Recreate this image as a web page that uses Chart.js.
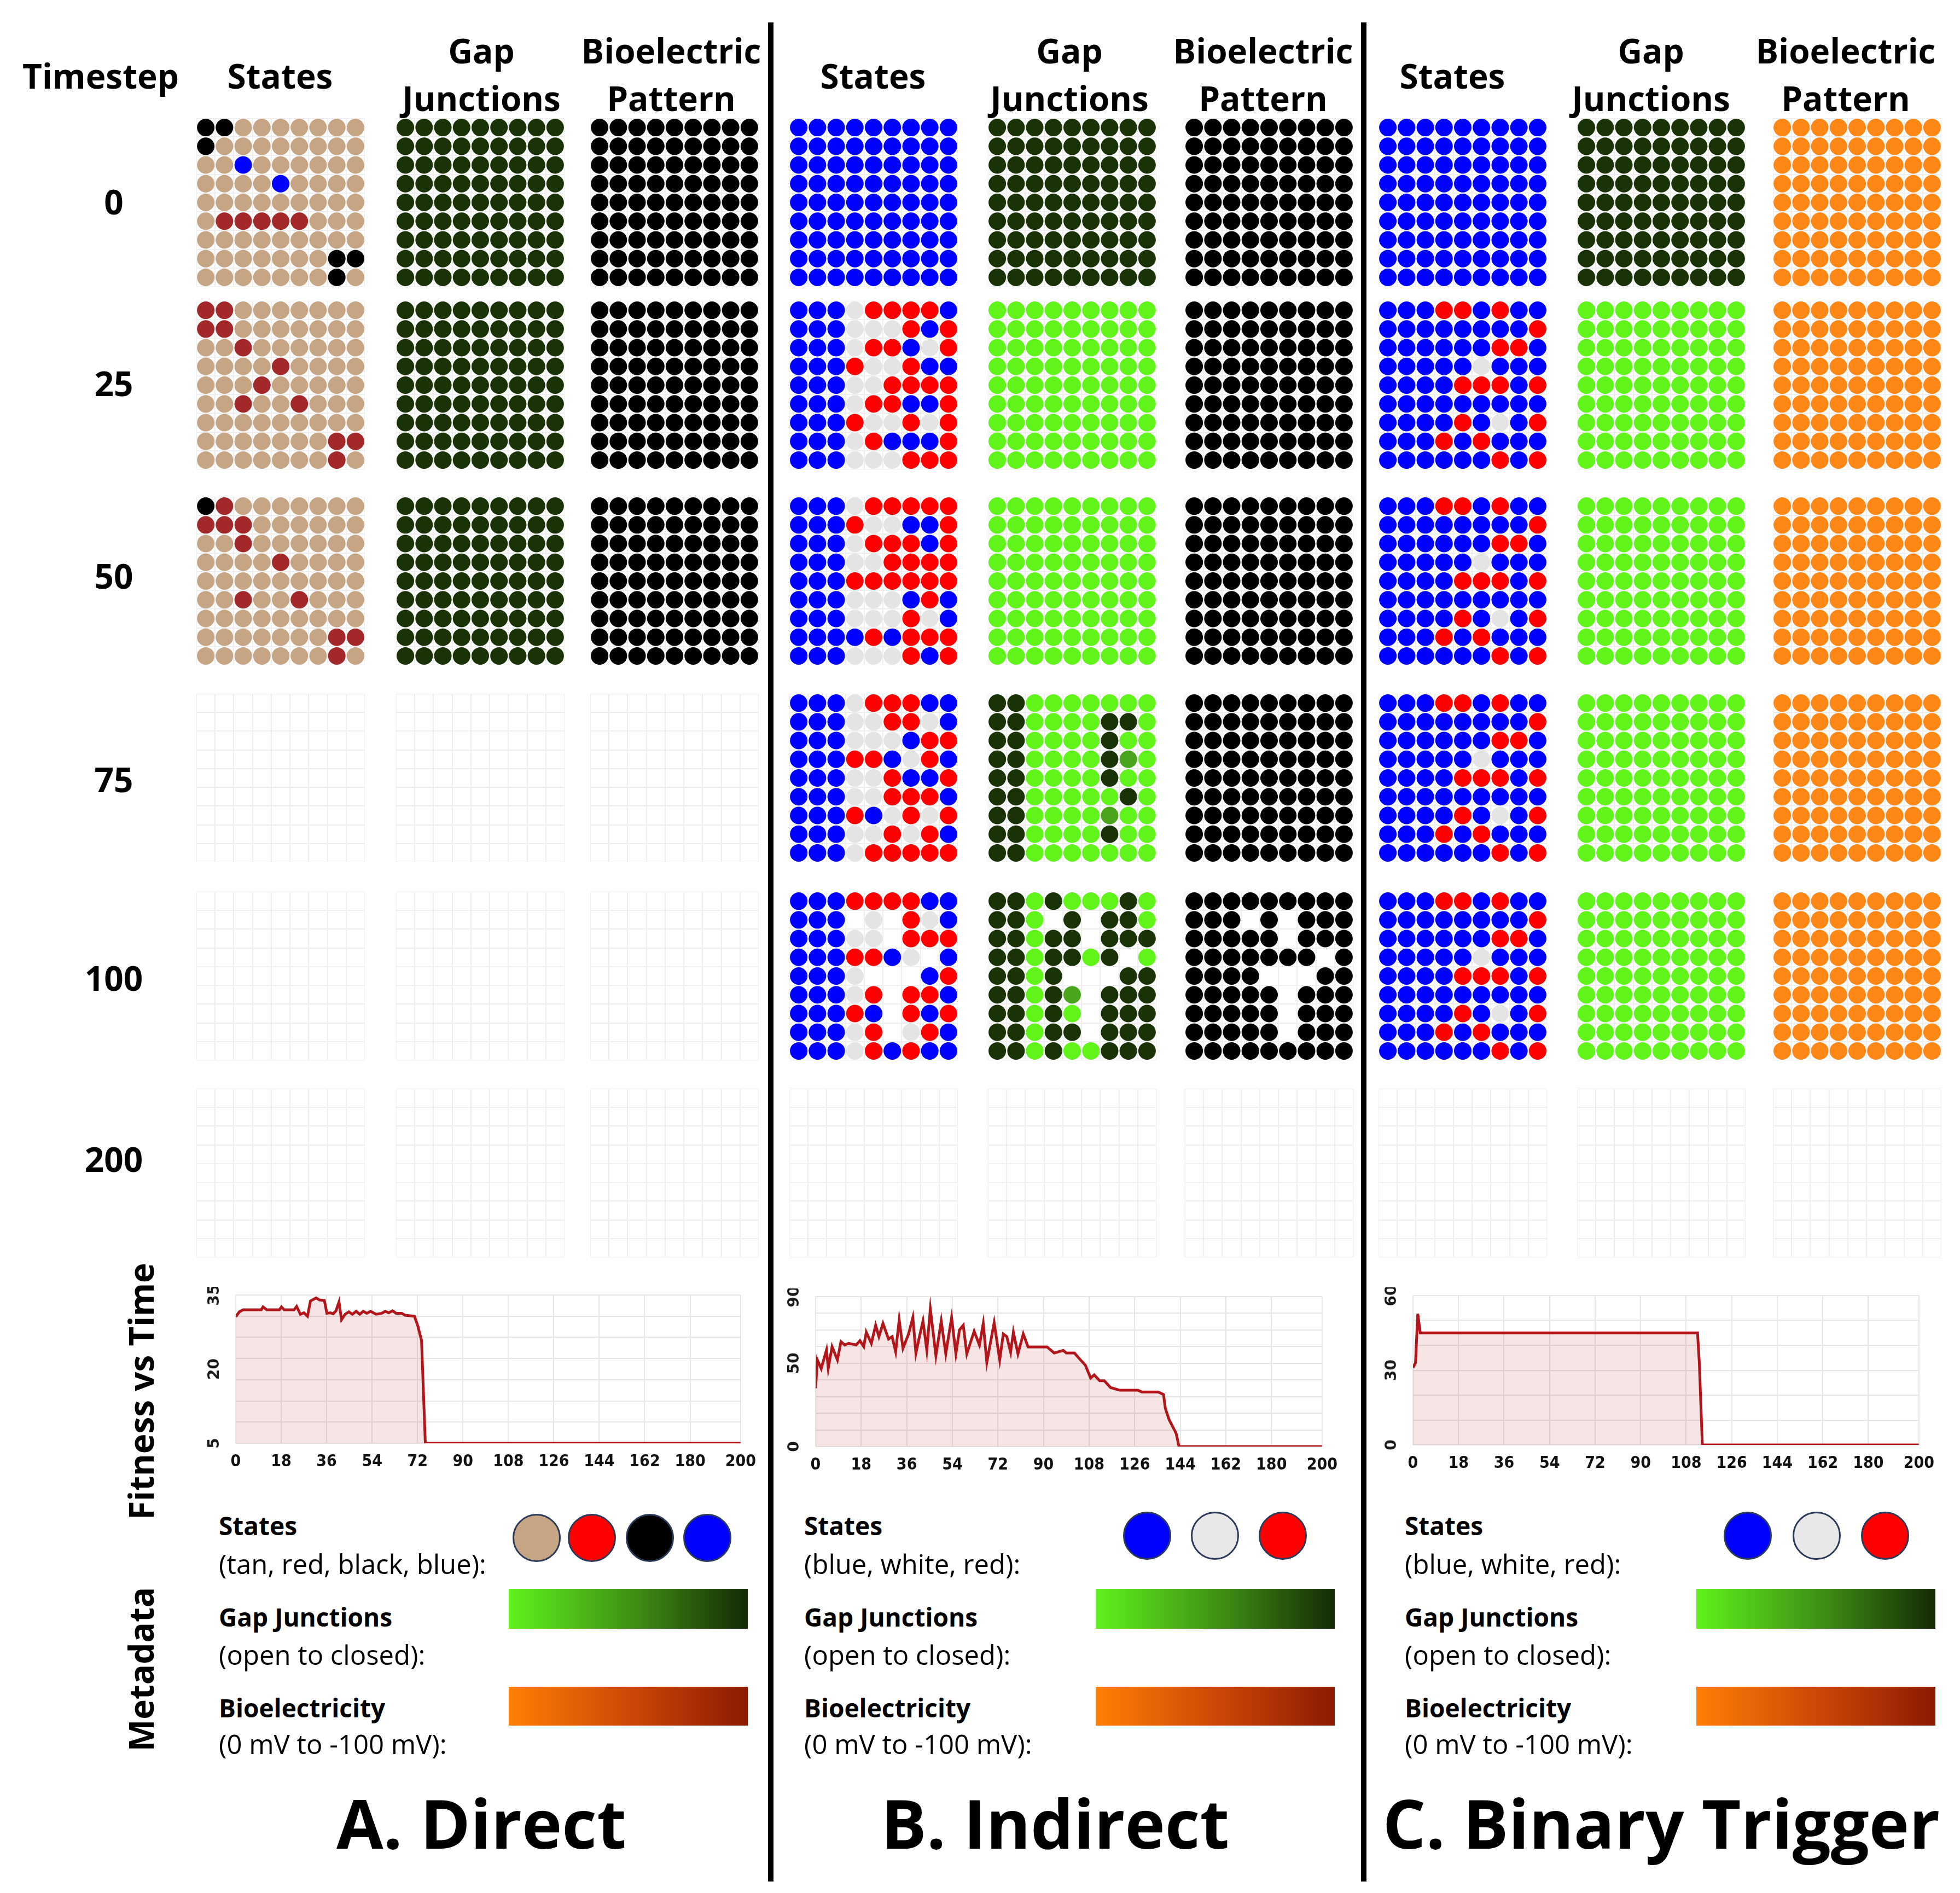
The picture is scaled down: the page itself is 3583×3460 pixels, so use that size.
<!DOCTYPE html>
<html>
<head>
<meta charset="utf-8">
<script src="https://cdn.jsdelivr.net/npm/chart.js@4.4.1/dist/chart.umd.min.js"></script>
<style>
body { margin: 0; background: #fff; }
#page { position: relative; width: 3583px; height: 3460px; overflow: hidden; font-family: "Open Sans", sans-serif; color: #000; }
.lbl { position: absolute; white-space: nowrap; line-height: 1.2; }
.c { transform: translate(-50%, -50%); }
.l { transform: translate(0, -50%); }
.rot { transform: translate(-50%, -50%) rotate(-90deg); }
canvas { position: absolute; }
.sep { position: absolute; width: 10px; top: 41px; height: 3398px; background: #000; }
.dot { position: absolute; width: 82px; height: 82px; border-radius: 50%; border: 3px solid #2b3a58; transform: translate(-50%, -50%); }
.bar { position: absolute; }
</style>
</head>
<body>
<div id="page"></div>
<script>
// timesteps and column headers
const timesteps = ['0', '25', '50', '75', '100', '200'];
const columnHeads = [['States'], ['Gap', 'Junctions'], ['Bioelectric', 'Pattern']];
const panelTitles = ['A. Direct', 'B. Indirect', 'C. Binary Trigger'];

// cell codes: T tan, R brown, K black, U blue, r red, W white, D dark green, G green, M mid green, O orange, . empty
const cellColors = { T: '#c6a585', R: '#a3282a', K: '#000000', U: '#0000ff', r: '#ff0000', W: '#e4e4e4',
  D: '#1a3306', G: '#60f41a', M: '#4aa51c', O: '#ff8716' };

const gridStatesA0 = ['KKTTTTTTT', 'KTTTTTTTT', 'TTUTTTTTT', 'TTTTUTTTT', 'TTTTTTTTT', 'TRRRRRTTT', 'TTTTTTTTT', 'TTTTTTTKK', 'TTTTTTTKT'];
const gridStatesA25 = ['RRTTTTTTT', 'RRTTTTTTT', 'TTRTTTTTT', 'TTTTRTTTT', 'TTTRTTTTT', 'TTRTTRTTT', 'TTTTTTTTT', 'TTTTTTTRR', 'TTTTTTTRT'];
const gridStatesA50 = ['KRTTTTTTT', 'RRRTTTTTT', 'TTRTTTTTT', 'TTTTRTTTT', 'TTTTTTTTT', 'TTRTTRTTT', 'TTTTTTTTT', 'TTTTTTTRR', 'TTTTTTTRT'];
const gridStatesB25 = ['UUUWrrrrU', 'UUUWWWrUr', 'UUUWrrUWr', 'UUUrWWrUU', 'UUUWWrrrr', 'UUUWrrUUr', 'UUUrWWrWr', 'UUUWrUUUr', 'UUUWWWrrr'];
const gridStatesB50 = ['UUUWrrrrr', 'UUUrWWUUr', 'UUUWrrrUr', 'UUUWWrrrr', 'UUUrrrrrr', 'UUUWWWUrU', 'UUUWWWrWU', 'UUUUrUrrr', 'UUUWWWrUr'];
const gridStatesB75 = ['UUUWrrrUU', 'UUUWWrrWU', 'UUUWWWUrr', 'UUUrrUWrU', 'UUUWWrUUr', 'UUUWWrrrU', 'UUUrUWrWr', 'UUUWWrWrU', 'UUUWrrrrr'];
const gridStatesB100 = ['UUUrrrrUU', 'UUU.W.rWU', 'UUUWW.rrr', 'UUUrrUW.U', 'UUUW...Ur', 'UUUWr.rrU', 'UUUrU.rUr', 'UUUWr.WrU', 'UUUWrUrUU'];
const gridGapB75 = ['DDGGGGGGG', 'DDGGGGDDG', 'DDGGGGDGG', 'DDGGGGDMG', 'DDGGGGDGG', 'DDGGGGGDG', 'DDGGGGMGG', 'DDGGGGDGG', 'DDGGGGGGG'];
const gridGapB100 = ['DDGDGGGDG', 'DDG.D.DDG', 'DDGDD.DDD', 'DDGDDGD.G', 'DDGD...DD', 'DDGDM.DDD', 'DDGDG.DDD', 'DDGDD.DDD', 'DDGDGGDDD'];
const gridBioB100 = ['KKKKKKKKK', 'KKK.K.KKK', 'KKKKK.KKK', 'KKKKKKK.K', 'KKKK...KK', 'KKKKK.KKK', 'KKKKK.KKK', 'KKKKK.KKK', 'KKKKKKKKK'];
const gridStatesC = ['UUUrrUrUU', 'UUUUUUUUr', 'UUUUUUrrU', 'UUUUUWUUU', 'UUUUrrrUr', 'UUUUUUUUU', 'UUUUrUWUr', 'UUUrUrUUU', 'UUUUUUrUr'];
const gridAllBlue = ['UUUUUUUUU', 'UUUUUUUUU', 'UUUUUUUUU', 'UUUUUUUUU', 'UUUUUUUUU', 'UUUUUUUUU', 'UUUUUUUUU', 'UUUUUUUUU', 'UUUUUUUUU'];
const gridAllDark = ['DDDDDDDDD', 'DDDDDDDDD', 'DDDDDDDDD', 'DDDDDDDDD', 'DDDDDDDDD', 'DDDDDDDDD', 'DDDDDDDDD', 'DDDDDDDDD', 'DDDDDDDDD'];
const gridAllGreen = ['GGGGGGGGG', 'GGGGGGGGG', 'GGGGGGGGG', 'GGGGGGGGG', 'GGGGGGGGG', 'GGGGGGGGG', 'GGGGGGGGG', 'GGGGGGGGG', 'GGGGGGGGG'];
const gridAllBlack = ['KKKKKKKKK', 'KKKKKKKKK', 'KKKKKKKKK', 'KKKKKKKKK', 'KKKKKKKKK', 'KKKKKKKKK', 'KKKKKKKKK', 'KKKKKKKKK', 'KKKKKKKKK'];
const gridAllOrange = ['OOOOOOOOO', 'OOOOOOOOO', 'OOOOOOOOO', 'OOOOOOOOO', 'OOOOOOOOO', 'OOOOOOOOO', 'OOOOOOOOO', 'OOOOOOOOO', 'OOOOOOOOO'];

// one row per timestep, one entry per column (null = empty panel)
const panelGrids = [
  [gridStatesA0, gridAllDark, gridAllBlack, gridAllBlue, gridAllDark, gridAllBlack, gridAllBlue, gridAllDark, gridAllOrange],
  [gridStatesA25, gridAllDark, gridAllBlack, gridStatesB25, gridAllGreen, gridAllBlack, gridStatesC, gridAllGreen, gridAllOrange],
  [gridStatesA50, gridAllDark, gridAllBlack, gridStatesB50, gridAllGreen, gridAllBlack, gridStatesC, gridAllGreen, gridAllOrange],
  [null, null, null, gridStatesB75, gridGapB75, gridAllBlack, gridStatesC, gridAllGreen, gridAllOrange],
  [null, null, null, gridStatesB100, gridGapB100, gridBioB100, gridStatesC, gridAllGreen, gridAllOrange],
  [null, null, null, null, null, null, null, null, null]
];

// fitness vs time
const fitTimeTicks = [0, 18, 36, 54, 72, 90, 108, 126, 144, 162, 180, 200];
const fitATime = [0, 1.4, 2.9, 10.1, 10.8, 12.3, 17.3, 18.1, 19.2, 23.1, 24.1, 25.6, 27, 28.4, 29.6, 31.8, 33.2, 35.1, 36.1, 37.5, 38.6, 39.7, 40.9, 41.9, 43.3, 44.8, 46.2, 47.7, 49.1, 50.5, 51.9, 53.4, 55.6, 57.8, 59.2, 60.6, 62.1, 63.5, 65.7, 67.1, 70.8, 72.2, 73.6, 75.1, 200];
const fitAScore = [30.6, 31.6, 32.0, 32.0, 32.6, 32.0, 32.0, 32.6, 32.0, 32.0, 32.7, 31.1, 31.4, 30.7, 33.8, 34.4, 34.0, 33.9, 31.3, 31.4, 31.2, 31.8, 33.6, 30.0, 31.1, 31.6, 31.1, 31.7, 31.1, 31.7, 31.3, 31.7, 31.1, 31.3, 31.7, 31.4, 31.8, 31.3, 31.3, 30.9, 30.7, 28.6, 25.8, 5, 5];
const fitBTime = [0, 0.7, 2.2, 4.3, 5, 6.5, 8.6, 10, 11.5, 13, 16, 17.5, 19, 20, 22, 23.7, 25, 26.6, 28.8, 30.2, 31.6, 33, 34.5, 36.7, 38.4, 39.6, 41, 42.4, 43.9, 45.3, 47.5, 49.6, 51.4, 53.7, 55.4, 56.8, 58.3, 59.7, 62.6, 64.7, 66.2, 67.6, 70.5, 72.7, 74.1, 75.5, 77, 78.1, 79.9, 82, 83.9, 91.4, 94.2, 97.8, 99, 102.2, 104.3, 106.5, 108.6, 110, 112.2, 114, 116.5, 120.1, 127.3, 128.8, 135.3, 137.4, 138.1, 139.6, 141, 142.4, 143.5, 200];
const fitBScore = [35, 52, 46.8, 58, 47, 60, 52, 63, 61, 62, 61, 63.5, 60, 68.7, 62, 72.8, 66, 73.9, 64.5, 66, 57, 76, 59, 67.6, 77.5, 56, 66, 75.4, 58, 82.7, 54.6, 75.4, 55.7, 77.5, 55.7, 70, 72.8, 55.7, 69.2, 60.9, 73.9, 50.5, 74.4, 52, 67.6, 66, 56.7, 68.7, 55.7, 67.6, 59.8, 59.8, 56.2, 57.7, 56.2, 56.2, 52.5, 48.9, 41.1, 43, 39.5, 39.5, 35.4, 33.8, 33.8, 32.8, 32.8, 31.2, 22.9, 16.1, 12, 7.8, 0, 0];
const fitCTime = [0, 1, 1.9, 2.9, 112.5, 113.2, 114.4, 200];
const fitCScore = [31, 33, 52.7, 45, 45, 33, 0, 0];
const fitYLabelsA = [5, 20, 35];
const fitYLabelsB = [0, 50, 90];
const fitYLabelsC = [0, 30, 60];

const page = document.getElementById('page');

function addLabel(text, x, y, cls, css) {
  const d = document.createElement('div');
  d.className = 'lbl ' + cls;
  d.textContent = text;
  d.style.left = x + 'px';
  d.style.top = y + 'px';
  Object.assign(d.style, css || {});
  page.appendChild(d);
  return d;
}

function addCanvas(x, y, w, h) {
  const c = document.createElement('canvas');
  c.width = w; c.height = h;
  c.style.left = x + 'px'; c.style.top = y + 'px';
  c.style.width = w + 'px'; c.style.height = h + 'px';
  page.appendChild(c);
  return c;
}

// layout
const colLefts = [359, 724, 1079, 1443, 1806, 2166, 2520, 2883, 3241];
const rowTops = [216, 550, 908, 1268, 1630, 1990];
const rowMids = [368, 700, 1052, 1424, 1787, 2118];
const headCenters = [512, 880, 1227, 1596, 1955, 2309, 2655, 3018, 3374];
const panelSize = 308;

const headFont = { fontSize: '62px', fontWeight: '700' };
addLabel('Timestep', 184, 138, 'c', headFont);
timesteps.forEach((t, i) => addLabel(t, 208, rowMids[i], 'c', headFont));
headCenters.forEach((x, i) => {
  const h = columnHeads[i % 3];
  if (h.length === 1) addLabel(h[0], x, 138, 'c', headFont);
  else { addLabel(h[0], x, 92, 'c', headFont); addLabel(h[1], x, 179, 'c', headFont); }
});

function drawGrid(canvas, grid) {
  const pts = [], cols = [];
  if (grid) {
    grid.forEach((row, r) => {
      row.split('').forEach((code, k) => {
        if (code === '.') return;
        pts.push({ x: k + 0.5, y: r + 0.5 });
        cols.push(cellColors[code]);
      });
    });
  }
  const axis = {
    min: 0, max: 9,
    ticks: { display: false, stepSize: 1 },
    grid: { color: '#eeeeee', lineWidth: 2, drawTicks: false },
    border: { display: false }
  };
  new Chart(canvas, {
    type: 'scatter',
    data: { datasets: [{ data: pts, pointBackgroundColor: cols, pointBorderWidth: 0, pointRadius: 16, pointHoverRadius: 16, clip: false }] },
    options: {
      animation: false, responsive: false, events: [],
      layout: { padding: 0, autoPadding: false },
      plugins: { legend: { display: false }, tooltip: { enabled: false } },
      scales: { x: axis, y: Object.assign({}, axis, { reverse: true }) }
    }
  });
}

panelGrids.forEach((row, r) => {
  row.forEach((grid, c) => {
    drawGrid(addCanvas(colLefts[c], rowTops[r], panelSize, panelSize), grid);
  });
});

// rotated y labels (the source chart prints them sideways)
const rotatedYLabels = {
  id: 'rotatedYLabels',
  afterDraw(chart, args, opts) {
    const ctx = chart.ctx, y = chart.scales.y;
    ctx.save();
    ctx.font = 'bold 28px "DejaVu Sans", sans-serif';
    ctx.fillStyle = '#1a1a1a';
    ctx.textAlign = 'center';
    ctx.textBaseline = 'middle';
    opts.values.forEach(v => {
      ctx.save();
      ctx.translate(chart.chartArea.left - 38, y.getPixelForValue(v));
      ctx.rotate(-Math.PI / 2);
      ctx.fillText(String(v), 0, 0);
      ctx.restore();
    });
    ctx.restore();
  }
};

function drawFitness(canvas, times, scores, yOpts, yLabels) {
  new Chart(canvas, {
    type: 'line',
    data: {
      datasets: [{
        data: times.map((t, i) => ({ x: t, y: scores[i] })),
        borderColor: '#b3161a', borderWidth: 5, pointRadius: 0, tension: 0,
        fill: 'start', backgroundColor: 'rgba(190, 50, 50, 0.13)'
      }]
    },
    options: {
      animation: false, responsive: false, events: [],
      layout: { padding: { left: 60, right: 30, top: 15, bottom: 0 } },
      plugins: { legend: { display: false }, tooltip: { enabled: false }, rotatedYLabels: { values: yLabels } },
      scales: {
        x: {
          type: 'linear', min: 0, max: 200,
          afterBuildTicks: s => { s.ticks = fitTimeTicks.map(v => ({ value: v })); },
          ticks: { autoSkip: false, maxRotation: 0, padding: 16, color: '#111',
            font: { family: '"DejaVu Sans Condensed", "Liberation Sans Narrow", sans-serif', weight: 'bold', size: 30 } },
          grid: { color: '#e6e6e6', lineWidth: 2, drawTicks: false },
          border: { display: false }
        },
        y: Object.assign({
          ticks: { display: false },
          grid: { color: '#e6e6e6', lineWidth: 2, drawTicks: false },
          border: { display: false }
        }, yOpts)
      }
    },
    plugins: [rotatedYLabels]
  });
}

drawFitness(addCanvas(371, 2352, 1027, 354), fitATime, fitAScore,
  { min: 5, max: 35, ticks: { display: false, count: 8 } }, fitYLabelsA);
drawFitness(addCanvas(1431, 2355, 1030, 357), fitBTime, fitBScore,
  { min: 0, max: 90, ticks: { display: false, stepSize: 10 } }, fitYLabelsB);
drawFitness(addCanvas(2523, 2353, 1029, 356), fitCTime, fitCScore,
  { min: 0, max: 60, ticks: { display: false, stepSize: 10 } }, fitYLabelsC);

// side labels
addLabel('Fitness vs Time', 257, 2543, 'rot', headFont);
addLabel('Metadata', 257, 3051, 'rot', headFont);

// metadata legends
const legendStates = [
  { text: '(tan, red, black, blue):', colors: ['#c6a585', '#ff0000', '#000000', '#0000ff'], xs: [981, 1082, 1188, 1293] },
  { text: '(blue, white, red):', colors: ['#0000ff', '#e8e8e8', '#ff0000'], xs: [2097, 2221, 2345] },
  { text: '(blue, white, red):', colors: ['#0000ff', '#e8e8e8', '#ff0000'], xs: [3195, 3321, 3446] }
];
const legendLefts = [400, 1470, 2568];
const barLefts = [930, 2003, 3101];
const boldSmall = { fontSize: '46px', fontWeight: '700' };
const regSmall = { fontSize: '49px', fontWeight: '400' };

legendStates.forEach((ls, i) => {
  const x = legendLefts[i];
  addLabel('States', x, 2789, 'l', boldSmall);
  addLabel(ls.text, x, 2858, 'l', regSmall);
  addLabel('Gap Junctions', x, 2956, 'l', boldSmall);
  addLabel('(open to closed):', x, 3024, 'l', regSmall);
  addLabel('Bioelectricity', x, 3122, 'l', boldSmall);
  addLabel('(0 mV to -100 mV):', x, 3187, 'l', regSmall);
  ls.colors.forEach((col, k) => {
    const d = document.createElement('div');
    d.className = 'dot';
    d.style.left = ls.xs[k] + 'px';
    d.style.top = (i === 0 ? 2811 : 2807) + 'px';
    d.style.background = col;
    page.appendChild(d);
  });
  const g = document.createElement('div');
  g.className = 'bar';
  Object.assign(g.style, { left: barLefts[i] + 'px', top: '2904px', width: '437px', height: '73px',
    background: 'linear-gradient(to right, #5ff21c, #3d8a14 55%, #142a05)' });
  page.appendChild(g);
  const b = document.createElement('div');
  b.className = 'bar';
  Object.assign(b.style, { left: barLefts[i] + 'px', top: '3083px', width: '437px', height: '71px',
    background: 'linear-gradient(to right, #ff7f05, #c84306 55%, #8a1a02)' });
  page.appendChild(b);
});

// panel titles
const titleCenters = [880, 1929, 3037];
panelTitles.forEach((t, i) => addLabel(t, titleCenters[i], 3331, 'c', { fontSize: '124px', fontWeight: '700' }));

// separators
[1404, 2488].forEach(x => {
  const s = document.createElement('div');
  s.className = 'sep';
  s.style.left = x + 'px';
  page.appendChild(s);
});
</script>
</body>
</html>
